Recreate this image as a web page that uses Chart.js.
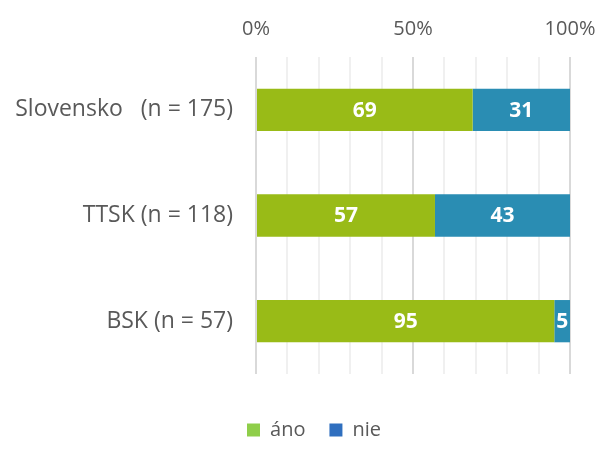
<!DOCTYPE html>
<html>
<head>
<meta charset="utf-8">
<script src="https://cdn.jsdelivr.net/npm/chart.js@4/dist/chart.umd.min.js"></script>
<style>
  html, body { margin: 0; padding: 0; background: #fff; }
  #wrap { width: 604px; height: 459px; }
</style>
</head>
<body>
<div id="wrap"><canvas id="graf"></canvas></div>
<script>
var kategorie = ['Slovensko   (n = 175)', 'TTSK (n = 118)', 'BSK (n = 57)'];
var ano = [69, 57, 95];
var nie = [31, 43, 5];
var osX = [0, 50, 100];

// hodnoty v strede segmentov
var popisky = {
    id: 'popisky',
    afterLayout: function(chart){
        // legenda je v originali posunuta doprava a nizsie
        chart.legend.left += 29;
        chart.legend.right += 29;
        chart.legend.top += 22;
        chart.legend.bottom += 22;
    },
    afterDatasetsDraw: function(chart){
        var ctx = chart.ctx;
        ctx.save();
        ctx.fillStyle = '#ffffff';
        ctx.font = 'bold 21px "Open Sans", sans-serif';
        ctx.textAlign = 'center';
        ctx.textBaseline = 'middle';
        chart.data.datasets.forEach(function(ds, i){
            chart.getDatasetMeta(i).data.forEach(function(el, j){
                var p = el.getCenterPoint();
                ctx.fillText(ds.data[j], p.x, p.y + 1);
            });
        });
        ctx.restore();
    }
};

var ctx1 = document.getElementById('graf').getContext('2d');
var chart = new Chart(ctx1, {
    type: 'bar',
    data: {
        labels: kategorie,
        datasets: [{
            label: 'áno',
            data: ano,
            backgroundColor: '#99bb17',
            legendColor: '#8fce4a',
            barPercentage: 0.4,
            categoryPercentage: 1
        }, {
            label: 'nie',
            data: nie,
            backgroundColor: '#2a8db3',
            legendColor: '#2f6fbf',
            barPercentage: 0.4,
            categoryPercentage: 1
        }]
    },
    options: {
        indexAxis: 'y',
        responsive: true,
        maintainAspectRatio: false,
        animation: false,
        layout: { padding: { top: 0, right: 34, bottom: 31, left: 0 } },
        scales: {
            x: {
                stacked: true,
                position: 'top',
                min: 0,
                max: 100,
                afterBuildTicks: function(s){
                    var t = [];
                    for (var v = 0; v <= 100; v += 10) t.push({ value: v });
                    s.ticks = t;
                },
                afterFit: function(s){
                    s.height = 57;
                    s.paddingLeft = 0;
                    s.paddingRight = 0;
                },
                ticks: {
                    autoSkip: false,
                    maxRotation: 0,
                    minRotation: 0,
                    padding: 16,
                    color: '#595959',
                    font: { family: '"Open Sans", sans-serif', size: 20 },
                    callback: function(v){ return osX.indexOf(v) >= 0 ? v + '%' : ''; }
                },
                grid: {
                    drawTicks: false,
                    lineWidth: 2,
                    color: function(c){
                        return c.tick && c.tick.value % 50 === 0 ? '#d9d9d9' : '#f0f0f0';
                    }
                },
                border: { display: false }
            },
            y: {
                stacked: true,
                afterFit: function(s){ s.width = 256; },
                ticks: {
                    padding: 15,
                    color: '#595959',
                    font: { family: '"Open Sans", sans-serif', size: 23 }
                },
                grid: { display: false },
                border: { display: false }
            }
        },
        plugins: {
            tooltip: { enabled: false },
            legend: {
                position: 'bottom',
                labels: {
                    boxWidth: 13,
                    boxHeight: 13,
                    padding: 24,
                    color: '#595959',
                    font: { family: '"Open Sans", sans-serif', size: 20 },
                    generateLabels: function(ch){
                        return ch.data.datasets.map(function(ds, i){
                            return {
                                text: ds.label,
                                fillStyle: ds.legendColor,
                                strokeStyle: ds.legendColor,
                                lineWidth: 0,
                                fontColor: '#595959',
                                datasetIndex: i
                            };
                        });
                    }
                }
            }
        }
    },
    plugins: [popisky]
});
</script>
</body>
</html>
